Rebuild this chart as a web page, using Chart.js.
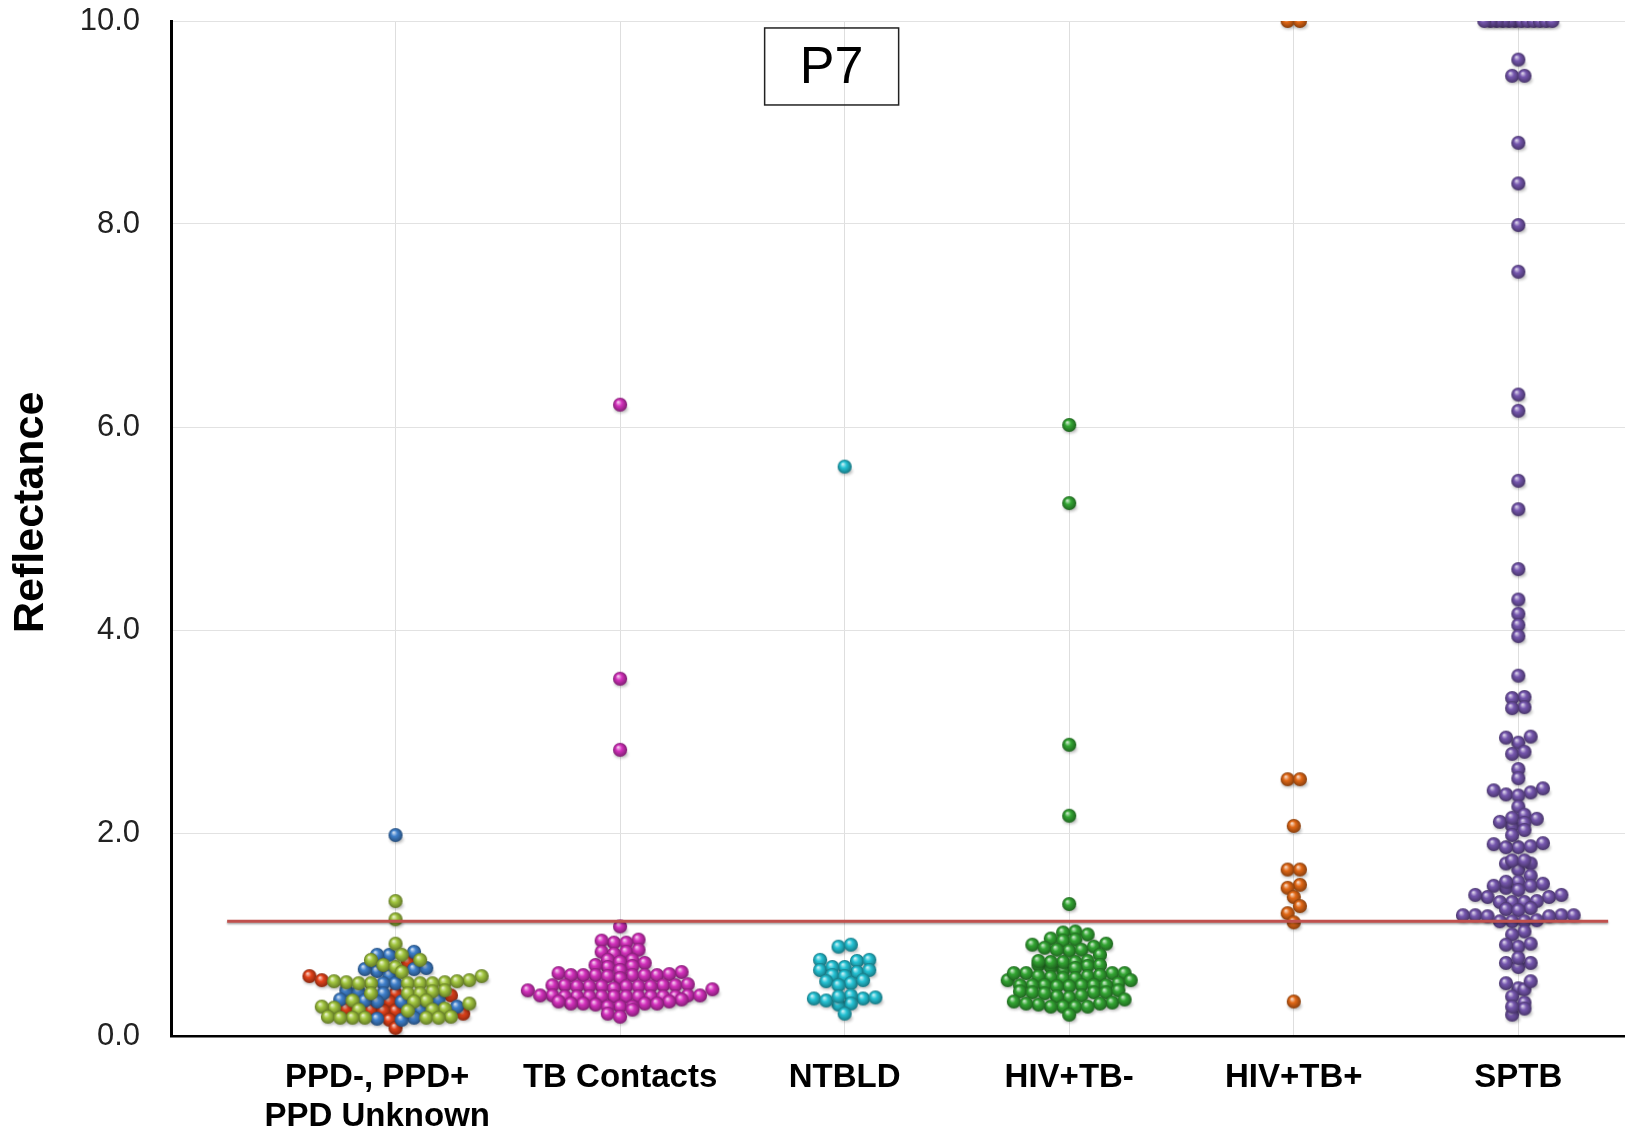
<!DOCTYPE html>
<html><head><meta charset="utf-8">
<script src="https://cdn.jsdelivr.net/npm/chart.js@4.4.1/dist/chart.umd.min.js"></script>
<style>html,body{margin:0;padding:0;background:#fff;}canvas{display:block;}</style>
</head><body>
<canvas id="c" width="1625" height="1131"></canvas>
<script>
// ---------- data ----------
const categories = [['PPD-, PPD+    ', 'PPD Unknown    '], 'TB Contacts', 'NTBLD', 'HIV+TB-', 'HIV+TB+', 'SPTB'];
const yTickStep = 2;
const yMin = 0, yMax = 10;
const cutoffValue = 1.13;
const cutoffSpan = [0.25, 6.4];
const panelLabel = 'P7';

const ppdNeg = [1.98, 0.83, 0.80, 0.80, 0.66, 0.64, 0.66, 0.67, 0.60, 0.52, 0.52, 0.45, 0.44, 0.42, 0.36, 0.34, 0.34, 0.35, 0.36, 0.29, 0.26, 0.17, 0.18, 0.16];
const ppdPos = [0.73, 0.59, 0.55, 0.42, 0.40, 0.34, 0.27, 0.26, 0.25, 0.25, 0.22, 0.16, 0.08];
const ppdUnknown = [1.33, 1.15, 0.91, 0.80, 0.75, 0.75, 0.70, 0.68, 0.63, 0.59, 0.55, 0.53, 0.52, 0.52, 0.52, 0.53, 0.52, 0.54, 0.52, 0.54, 0.45, 0.44, 0.42, 0.42, 0.42, 0.35, 0.34, 0.32, 0.35, 0.27, 0.28, 0.26, 0.26, 0.25, 0.29, 0.19, 0.18, 0.18, 0.18, 0.19, 0.18, 0.18];
const tbContacts = [6.22, 3.52, 2.82, 1.08,
  0.92, 0.94, 0.95, 0.92, 0.83, 0.83, 0.85, 0.81,
  0.75, 0.75, 0.73, 0.68, 0.72, 0.70, 0.69,
  0.60, 0.65, 0.57, 0.60, 0.60, 0.60, 0.62, 0.60, 0.63, 0.60, 0.61, 0.59,
  0.46, 0.45, 0.49, 0.50, 0.50, 0.49, 0.49, 0.50, 0.50, 0.51, 0.49, 0.49, 0.47, 0.49,
  0.39, 0.39, 0.40, 0.39, 0.39, 0.39, 0.39, 0.39, 0.40, 0.39, 0.39, 0.39, 0.40, 0.40, 0.36,
  0.34, 0.31, 0.32, 0.29, 0.29, 0.32, 0.32, 0.32, 0.29, 0.34,
  0.22, 0.26, 0.19];
const ntbld = [5.61, 0.88, 0.90, 0.74, 0.75, 0.75, 0.65, 0.63, 0.68, 0.65, 0.68, 0.60, 0.59, 0.52, 0.54, 0.55, 0.50,
  0.37, 0.40, 0.31, 0.37, 0.32, 0.38, 0.35, 0.39, 0.22];
const hivTbNeg = [6.02, 5.25, 2.87, 2.17, 1.30,
  1.03, 1.00, 1.02, 0.96, 0.94, 0.95,
  0.90, 0.87, 0.84, 0.85, 0.85, 0.88, 0.91, 0.80,
  0.70, 0.74, 0.65, 0.73, 0.68, 0.73, 0.69, 0.73, 0.74, 0.67, 0.70, 0.62,
  0.58, 0.55, 0.59, 0.57, 0.62, 0.62, 0.62, 0.59, 0.57, 0.60,
  0.50, 0.50, 0.49, 0.49, 0.50, 0.52, 0.55, 0.50, 0.50, 0.50,
  0.43, 0.38, 0.40, 0.39, 0.44, 0.43, 0.43, 0.45, 0.42,
  0.33, 0.29, 0.32, 0.36, 0.29, 0.29, 0.31, 0.34, 0.29, 0.32,
  0.21];
const hivTbPos = [10, 10, 2.53, 2.53, 2.07, 1.64, 1.64, 1.49, 1.46, 1.37, 1.28, 1.21, 1.12, 0.34];
const sptb = [10, 10, 10, 10, 10, 10, 10, 10, 10, 10, 10, 10,
  9.62, 9.46, 9.46, 8.80, 8.40, 7.99, 7.53, 6.32, 6.16, 5.47, 5.19, 4.60, 4.30, 4.16, 4.05, 3.94, 3.55,
  3.34, 3.33, 3.24, 3.23, 2.89, 2.95, 2.94, 2.78, 2.80, 2.63, 2.54,
  2.42, 2.38, 2.44, 2.40, 2.37, 2.26,
  2.07, 2.11, 2.18, 2.15, 2.14, 2.10, 2.03,
  1.89, 1.86, 1.87, 1.86, 1.98, 1.90,
  1.70, 1.64, 1.70, 1.73, 1.73,
  1.58, 1.46, 1.52, 1.48, 1.52, 1.48, 1.50, 1.44,
  1.37, 1.32, 1.32, 1.39, 1.37, 1.39, 1.32, 1.33, 1.25, 1.26, 1.24,
  1.19, 1.18, 1.13, 1.19, 1.13, 1.19, 1.18, 1.14, 1.19, 1.13,
  1.03, 1.00, 0.88, 0.91, 0.90, 0.72, 0.68, 0.72, 0.77,
  0.47, 0.52, 0.46, 0.54, 0.39, 0.33, 0.27, 0.21, 0.29];

// ---------- series definitions (column index, colour) ----------
const series = [
  { name: 'PPD Unknown', values: ppdUnknown, col: 1, color: '#a2c63f', order: 1 },
  { name: 'PPD-', values: ppdNeg, col: 1, color: '#3f80cc', order: 2 },
  { name: 'PPD+', values: ppdPos, col: 1, color: '#e4421a', order: 3 },
  { name: 'TB Contacts', values: tbContacts, col: 2, color: '#d431bd', order: 1 },
  { name: 'NTBLD', values: ntbld, col: 3, color: '#25c3d5', order: 1 },
  { name: 'HIV+TB-', values: hivTbNeg, col: 4, color: '#33a633', order: 1 },
  { name: 'HIV+TB+', values: hivTbPos, col: 5, color: '#e16816', order: 1 },
  { name: 'SPTB', values: sptb, col: 6, color: '#7657af', order: 1 }
];

// ---------- sphere sprites ----------
function shade(hex, f) {
  const n = parseInt(hex.slice(1), 16);
  let r = n >> 16, g = (n >> 8) & 255, b = n & 255;
  if (f >= 0) { r += (255 - r) * f; g += (255 - g) * f; b += (255 - b) * f; }
  else { r *= 1 + f; g *= 1 + f; b *= 1 + f; }
  return `rgb(${Math.round(r)},${Math.round(g)},${Math.round(b)})`;
}
function sphere(color) {
  const c = document.createElement('canvas');
  c.width = 28; c.height = 28;
  const g = c.getContext('2d');
  g.save();
  g.filter = 'blur(1.8px)';
  g.fillStyle = 'rgba(0,0,0,0.28)';
  g.beginPath(); g.ellipse(15, 18.5, 6.8, 3.8, 0, 0, Math.PI * 2); g.fill();
  g.restore();
  const r = 7.1;
  const grad = g.createRadialGradient(12, 11.3, 0.4, 14, 14, r);
  grad.addColorStop(0, shade(color, 0.75));
  grad.addColorStop(0.4, color);
  grad.addColorStop(1, shade(color, -0.4));
  g.fillStyle = grad;
  g.beginPath(); g.arc(14, 14, r, 0, Math.PI * 2); g.fill();
  return c;
}

// ---------- datasets ----------
const datasets = [{
  type: 'line',
  label: 'cutoff',
  data: cutoffSpan.map(x => ({ x, y: cutoffValue })),
  borderColor: '#c0504d',
  borderWidth: 3,
  pointRadius: 0,
  order: 0
}];
series.forEach(s => {
  datasets.push({
    label: s.name,
    data: s.values.map(v => ({ x: s.col, y: v })),
    pointStyle: sphere(s.color),
    pointRadius: 7,
    order: s.order
  });
});

// ---------- plugins: soft shadow under the cutoff line, and the panel box ----------
const lineShadow = {
  id: 'lineShadow',
  beforeDatasetDraw(chart, args) {
    if (args.index !== 0) return;
    const ctx = chart.ctx;
    ctx.save();
    ctx.shadowColor = 'rgba(0,0,0,0.35)';
    ctx.shadowBlur = 2;
    ctx.shadowOffsetY = 1.5;
  },
  afterDatasetDraw(chart, args) {
    if (args.index !== 0) return;
    chart.ctx.restore();
  }
};
const boxPlugin = {
  id: 'panelBox',
  afterDatasetsDraw(chart, args, opts) {
    const { ctx, scales: { x, y } } = chart;
    const cx = x.getPixelForValue(opts.x), cy = y.getPixelForValue(opts.y);
    ctx.save();
    ctx.strokeStyle = '#222';
    ctx.lineWidth = 1.5;
    ctx.strokeRect(cx - opts.w / 2, cy - opts.h / 2, opts.w, opts.h);
    ctx.fillStyle = '#000';
    ctx.font = '52px "Liberation Sans", Arial, sans-serif';
    ctx.textAlign = 'center';
    ctx.textBaseline = 'middle';
    ctx.fillText(opts.text, cx, cy + 2);
    ctx.restore();
  }
};

const font = '"Liberation Sans", Arial, Helvetica, sans-serif';
const chart = new Chart(document.getElementById('c'), {
  type: 'scatter',
  data: { datasets },
  options: {
    responsive: false,
    animation: false,
    devicePixelRatio: 1,
    events: [],
    layout: { autoPadding: false, padding: { top: 21, right: 0, left: 0, bottom: 0 } },
    plugins: {
      legend: { display: false },
      tooltip: { enabled: false },
      panelBox: { x: 2.942, y: 9.552, w: 134, h: 77, text: panelLabel }
    },
    scales: {
      x: {
        type: 'linear', min: 0, max: 6.475,
        afterBuildTicks: s => { s.ticks = categories.map((c, i) => ({ value: i + 1 })); },
        afterFit: s => { s.height = 95; s.paddingLeft = 0; s.paddingRight = 0; },
        ticks: {
          autoSkip: false, maxRotation: 0, padding: 22, color: '#000',
          font: { family: font, size: 33, weight: 'bold', lineHeight: 1.2 },
          callback: (v) => categories[Math.round(v) - 1]
        },
        grid: { color: '#dedede', lineWidth: 1, drawTicks: false },
        border: { color: '#000', width: 2.5 }
      },
      y: {
        min: yMin, max: yMax,
        afterFit: s => { s.width = 171; s.paddingTop = 0; s.paddingBottom = 0; },
        ticks: {
          stepSize: yTickStep, padding: 31, color: '#222',
          font: { family: font, size: 31 },
          callback: v => Number(v).toFixed(1)
        },
        grid: { color: '#e2e2e2', lineWidth: 1, drawTicks: false },
        border: { color: '#000', width: 3 },
        title: {
          display: true, text: '  \u2009Reflectance', color: '#000',
          font: { family: font, size: 43, weight: 'bold' },
          padding: { top: 5, bottom: 0 }
        }
      }
    }
  },
  plugins: [lineShadow, boxPlugin]
});

// ---------- column-scatter layout (rows of nearby values spread sideways) ----------
function layoutColumns(chart) {
  const xs = chart.scales.x, ys = chart.scales.y;
  const pxPerUnit = xs.getPixelForValue(1) - xs.getPixelForValue(0);
  const rowH = 8, step = 12.3, clipWidth = 68;
  const cols = {};
  series.forEach((s, si) => {
    (cols[s.col] = cols[s.col] || []);
    s.values.forEach((v, vi) => cols[s.col].push({ v, si, vi }));
  });
  Object.keys(cols).forEach(col => {
    const pts = cols[col];
    pts.sort((a, b) => a.v - b.v || a.vi - b.vi || a.si - b.si);
    const rows = [];
    let cur = null;
    pts.forEach(p => {
      p.py = ys.getPixelForValue(Math.min(p.v, yMax));
      p.clip = p.v >= yMax;
      if (!cur || cur.py0 - p.py > rowH || cur.clip !== p.clip) {
        cur = { py0: p.py, clip: p.clip, items: [] };
        rows.push(cur);
      }
      cur.items.push(p);
    });
    rows.forEach(r => {
      const n = r.items.length;
      const sp = r.clip && n > 1 ? Math.min(step, clipWidth / (n - 1)) : step;
      const slots = [];
      for (let k = 0; k < n; k++) slots.push((k - (n - 1) / 2) * sp);
      slots.sort((a, b) => Math.abs(a) - Math.abs(b) || a - b);
      r.items.forEach((p, i) => {
        chart.data.datasets[p.si + 1].data[p.vi].x = Number(col) + slots[i] / pxPerUnit;
      });
    });
  });
  chart.update('none');
}
layoutColumns(chart);
</script>
</body></html>
